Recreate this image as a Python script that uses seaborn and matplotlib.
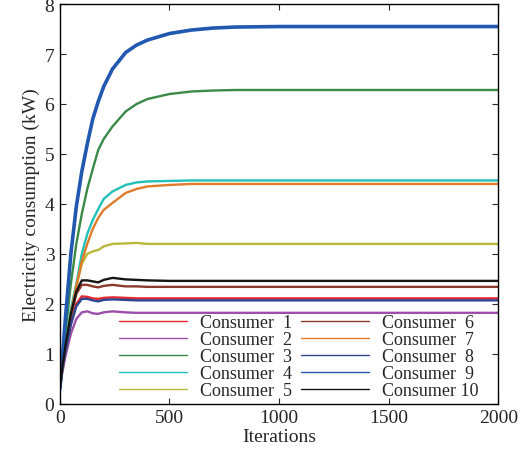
"""Electricity consumption of ten consumers vs. iterations."""

import numpy as np
import pandas as pd
import matplotlib
matplotlib.use("Agg")
import matplotlib.pyplot as plt
import seaborn as sns

iterations = [0, 10, 25, 50, 75, 100, 125, 150, 175, 200, 240, 300, 350, 400,
              500, 600, 700, 800, 1000, 1500, 2000]

consumer_1 = [0.3, 0.65, 1.05, 1.6, 2.0, 2.15, 2.14, 2.11, 2.1, 2.12, 2.13, 2.12,
              2.11, 2.11, 2.11, 2.11, 2.11, 2.11, 2.11, 2.11, 2.11]
consumer_2 = [0.3, 0.6, 0.95, 1.4, 1.7, 1.83, 1.85, 1.81, 1.8, 1.83, 1.85, 1.83,
              1.82, 1.82, 1.82, 1.82, 1.82, 1.82, 1.82, 1.82, 1.82]
consumer_3 = [0.3, 0.75, 1.4, 2.4, 3.2, 3.8, 4.3, 4.7, 5.08, 5.3, 5.55, 5.85,
              6.0, 6.1, 6.2, 6.25, 6.27, 6.28, 6.28, 6.28, 6.28]
consumer_4 = [0.3, 0.7, 1.2, 1.9, 2.4, 3.0, 3.4, 3.68, 3.9, 4.1, 4.25, 4.38,
              4.43, 4.45, 4.46, 4.47, 4.47, 4.47, 4.47, 4.47, 4.47]
consumer_5 = [0.3, 0.65, 1.1, 1.8, 2.35, 2.8, 3.0, 3.05, 3.08, 3.15, 3.2, 3.21,
              3.22, 3.2, 3.2, 3.2, 3.2, 3.2, 3.2, 3.2, 3.2]
consumer_6 = [0.3, 0.68, 1.1, 1.75, 2.2, 2.38, 2.38, 2.35, 2.33, 2.36, 2.38, 2.35,
              2.35, 2.34, 2.34, 2.34, 2.34, 2.34, 2.34, 2.34, 2.34]
consumer_7 = [0.3, 0.65, 1.1, 1.8, 2.35, 2.85, 3.2, 3.5, 3.72, 3.88, 4.02, 4.22,
              4.3, 4.35, 4.38, 4.4, 4.4, 4.4, 4.4, 4.4, 4.4]
consumer_8 = [0.3, 0.65, 1.05, 1.58, 1.95, 2.1, 2.1, 2.07, 2.05, 2.08, 2.09, 2.08,
              2.07, 2.07, 2.07, 2.07, 2.07, 2.07, 2.07, 2.07, 2.07]
consumer_9 = [0.3, 0.85, 1.7, 3.0, 3.95, 4.65, 5.2, 5.7, 6.05, 6.35, 6.7, 7.03,
              7.18, 7.28, 7.41, 7.48, 7.52, 7.54, 7.55, 7.55, 7.55]
consumer_10 = [0.3, 0.7, 1.15, 1.8, 2.25, 2.47, 2.47, 2.45, 2.43, 2.48, 2.52, 2.49,
               2.48, 2.47, 2.46, 2.46, 2.46, 2.46, 2.46, 2.46, 2.46]

labels = ["Consumer  1", "Consumer  2", "Consumer  3", "Consumer  4", "Consumer  5",
          "Consumer  6", "Consumer  7", "Consumer  8", "Consumer  9", "Consumer 10"]
series = [consumer_1, consumer_2, consumer_3, consumer_4, consumer_5,
          consumer_6, consumer_7, consumer_8, consumer_9, consumer_10]
colors = ["#e8262b", "#9b4fa8", "#3a8a47", "#22c0b8", "#b8b83a",
          "#8b3a2a", "#e07b2a", "#2e4590", "#2158b0", "#151515"]

df = pd.concat([
    pd.DataFrame({"Iterations": iterations, "value": vals, "consumer": lab})
    for lab, vals in zip(labels, series)
])

sns.set_style("ticks")
plt.rcParams["font.family"] = ["Liberation Serif", "DejaVu Serif"]

fig = plt.figure(figsize=(5.3, 4.6), dpi=100)
ax = fig.add_axes([0.113, 0.12, 0.827, 0.869])

sns.lineplot(data=df, x="Iterations", y="value", hue="consumer",
             hue_order=labels, palette=colors, linewidth=1.7, ax=ax,
             legend=False)
ax.get_lines()[8].set_linewidth(2.6)

ax.set_xlim(0, 2000)
ax.set_ylim(0, 8)
ax.set_xticks(np.arange(0, 2001, 500))
ax.set_yticks(np.arange(0, 9, 1))
ax.tick_params(direction="in", top=True, right=True, labelsize=14,
               length=4, width=0.8, pad=4)
for s in ax.spines.values():
    s.set_linewidth(1.0)
    s.set_color("black")
ax.set_xlabel("Iterations", fontsize=14, labelpad=1)
ax.set_ylabel("Electricity consumption (kW)", fontsize=14, labelpad=3)

handles = [plt.Line2D([], [], color=c, linewidth=1.0) for c in colors]
ax.legend(handles, labels, ncol=2, frameon=False, fontsize=13,
          loc="lower right", bbox_to_anchor=(0.985, -0.02),
          handlelength=3.75, handletextpad=0.75, columnspacing=0.5,
          labelspacing=0.0, borderpad=0.2)

fig.savefig("out.png", dpi=100)
